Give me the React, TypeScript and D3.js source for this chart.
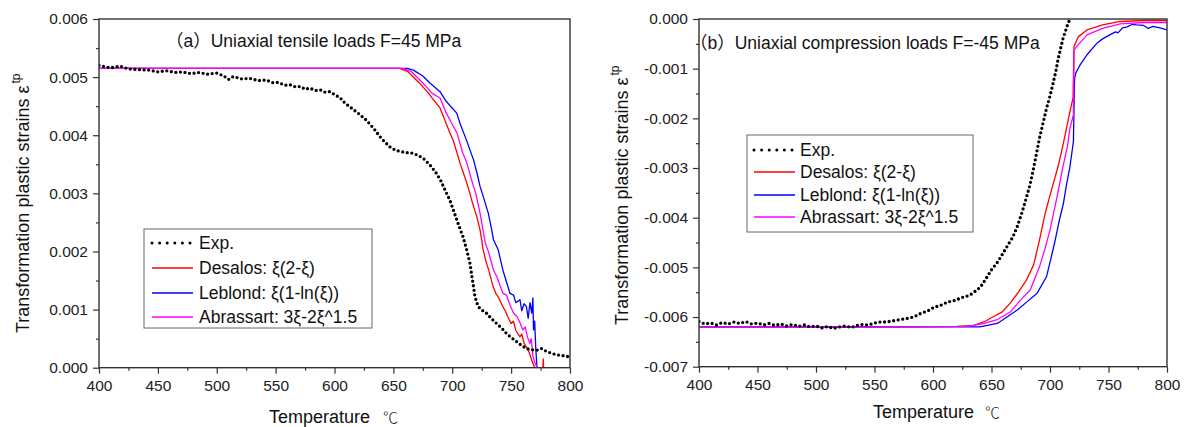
import React, { useEffect, useRef } from "react";
import * as d3 from "d3";

const xTicks = [400, 450, 500, 550, 600, 650, 700, 750, 800];
const xMinorTicks = [425, 475, 525, 575, 625, 675, 725, 775];
const yTicksA = [0, 0.001, 0.002, 0.003, 0.004, 0.005, 0.006];
const yMinorA = [0.0005, 0.0015, 0.0025, 0.0035, 0.0045, 0.0055];
const yTicksB = [0, -0.001, -0.002, -0.003, -0.004, -0.005, -0.006, -0.007];
const yMinorB = [-0.0005, -0.0015, -0.0025, -0.0035, -0.0045, -0.0055, -0.0065];

const legendLabels = ["Exp.", "Desalos: ξ(2-ξ)", "Leblond: ξ(1-ln(ξ))", "Abrassart: 3ξ-2ξ^1.5"];
const seriesColors = ["#000000", "#ff0000", "#0000ff", "#ff00ff"];

// Panel (a): tensile
const expA: [number, number][] = [
  [400, 0.0052], [405, 0.00518], [410, 0.00516], [418, 0.00519], [425, 0.00514], [432, 0.00513], [443, 0.00512],
  [450, 0.00509], [457, 0.00511], [465, 0.00508], [471, 0.00509], [478, 0.00506], [485, 0.00508], [492, 0.00505],
  [500, 0.00507], [506, 0.00502], [510, 0.00496], [514, 0.00501], [521, 0.00497], [528, 0.00498], [535, 0.00494],
  [542, 0.00495], [548, 0.0049], [552, 0.00491], [558, 0.00486], [562, 0.00487], [567, 0.00483], [571, 0.00484],
  [575, 0.00479], [579, 0.00481], [584, 0.00477], [588, 0.00478], [592, 0.00474], [596, 0.00475], [600, 0.0047],
  [605, 0.00464], [609, 0.00455], [613, 0.00449], [620, 0.00438], [627, 0.00426], [634, 0.0041], [638, 0.00399],
  [641, 0.00392], [647, 0.0038], [652, 0.00374], [656, 0.00372], [662, 0.0037], [667, 0.00369], [672, 0.00364],
  [675, 0.00361], [681, 0.00349], [686, 0.00336], [690, 0.00323], [694, 0.00305], [698, 0.00288], [701, 0.00271],
  [705, 0.00248], [709, 0.00226], [712, 0.00205], [715, 0.0018], [718, 0.0014], [719.3, 0.00122], [722, 0.00105],
  [726, 0.00098], [729, 0.00094], [733, 0.00085], [737.7, 0.00076], [742, 0.00068], [746, 0.00059], [750, 0.00052],
  [754.7, 0.00045], [759, 0.00038], [763, 0.00033], [767, 0.00031], [771.7, 0.0003], [776, 0.00033], [780, 0.00028],
  [784, 0.00025], [788.7, 0.00022], [793, 0.00021], [798.6, 0.00019], [800, 0.00015],
];
const desalosA: [number, number][] = [
  [400, 0.00515], [655, 0.00515], [662, 0.0051], [672, 0.0049], [680, 0.00472], [684, 0.00461], [689.6, 0.00447],
  [692, 0.00435], [698, 0.00404], [701, 0.0039], [706.6, 0.00352], [709, 0.00338], [712, 0.0032], [715, 0.003],
  [717, 0.00285], [720.8, 0.0026], [723.6, 0.00237], [725, 0.0022], [726, 0.00205], [729, 0.0018], [731, 0.00168],
  [734.6, 0.0014], [737, 0.00128], [739, 0.00122], [743, 0.00105], [745, 0.00098], [747, 0.00088], [750, 0.00076],
  [752, 0.0008], [754, 0.00064], [757.5, 0.00053], [759, 0.00058], [761, 0.00042], [763, 0.00036], [765, 0.00028],
  [767.5, 0.00013], [769, 0.00005], [770, 0], [777, 0], [777.3, 0.00015], [777.6, 0],
];
const leblondA: [number, number][] = [
  [400, 0.00515], [662, 0.00515], [667, 0.00512], [675, 0.00502], [681, 0.0049], [689.6, 0.00475], [695, 0.00458],
  [703.8, 0.00438], [707, 0.00418], [712, 0.00392], [718, 0.00358], [721, 0.00335], [723.6, 0.00312], [727, 0.0029],
  [730.6, 0.00266], [733.5, 0.00237], [735, 0.0022], [739, 0.00203], [743, 0.00168], [746, 0.00148], [749, 0.00128],
  [752, 0.00125], [754, 0.00112], [757.5, 0.00117], [759, 0.00098], [761, 0.0011], [763, 0.00105], [764.5, 0.00085],
  [766, 0.00112], [767.5, 0.00094], [768.5, 0.0012], [769, 0.00065], [770, 0.0008], [771, 0.0003], [772, 0],
];
const abrassartA: [number, number][] = [
  [400, 0.00515], [658, 0.00515], [665, 0.0051], [675, 0.0049], [683, 0.00472], [689.6, 0.00464], [695, 0.00438],
  [701, 0.00415], [704, 0.00404], [709, 0.00369], [712, 0.00355], [718, 0.00312], [720, 0.003], [723.6, 0.00266],
  [728, 0.00215], [731, 0.00198], [735, 0.00168], [738, 0.00156], [743, 0.00128], [746, 0.00125], [749, 0.00108],
  [752, 0.00094], [755, 0.00088], [757, 0.0008], [760, 0.00065], [762, 0.0007], [764, 0.00052], [766, 0.00042],
  [767, 0.0005], [768.6, 0.00019], [770, 0.0001], [772, 0],
];

// Panel (b): compression
const expB: [number, number][] = [
  [400, -0.00609], [405, -0.00614], [410, -0.00612], [415, -0.00616], [420, -0.00611], [425, -0.00614], [430, -0.0061],
  [435, -0.00613], [440, -0.00609], [445, -0.00614], [450, -0.00612], [455, -0.00616], [460, -0.00613], [465, -0.00617],
  [470, -0.00614], [475, -0.00618], [480, -0.00615], [485, -0.00619], [490, -0.00616], [495, -0.0062], [500, -0.00618],
  [505, -0.00622], [510, -0.00619], [515, -0.00623], [520, -0.0062], [525, -0.00618], [530, -0.00621], [535, -0.00617],
  [540, -0.00615], [545, -0.00616], [550, -0.00612], [555, -0.0061], [560, -0.0061], [565, -0.00608], [570, -0.00606],
  [575, -0.00604], [580, -0.00602], [583, -0.006], [587, -0.00596], [590, -0.00592], [594, -0.00589], [597, -0.00586],
  [601, -0.0058], [605, -0.00578], [609, -0.00574], [612, -0.0057], [616, -0.00568], [620, -0.00566], [623, -0.00562],
  [626, -0.0056], [629, -0.00558], [632, -0.00555], [635, -0.0055], [638, -0.00545], [642, -0.00535], [646, -0.0052],
  [650, -0.00505], [655, -0.0049], [659, -0.00475], [663, -0.00459], [668, -0.0044], [672, -0.00418], [676, -0.0039],
  [680, -0.00358], [683, -0.00333], [686, -0.003], [688.5, -0.0027], [691, -0.0024], [694, -0.0021], [697, -0.0018],
  [700, -0.00155], [702.6, -0.0013], [705, -0.00105], [707, -0.0008], [709, -0.0006], [711, -0.0004], [714.5, -0.00015],
  [717, 0], [719, 0.0001],
];
const desalosB: [number, number][] = [
  [400, -0.0062], [560, -0.0062], [620, -0.00619], [635, -0.00617], [645, -0.00608], [651, -0.006], [659, -0.0059],
  [666, -0.00572], [673, -0.0055], [680, -0.00525], [686, -0.00495], [691, -0.00445], [696, -0.0039], [700, -0.00355],
  [707, -0.00296], [711, -0.00255], [717, -0.00187], [719.7, -0.00159], [720.5, -0.00056], [724, -0.00036],
  [731.6, -0.00022], [745, -0.00012], [760, -0.00005], [780, -0.00003], [800, -0.00003],
];
const leblondB: [number, number][] = [
  [400, -0.0062], [560, -0.0062], [640, -0.0062], [655, -0.00613], [672, -0.00586], [680, -0.0057], [689, -0.00552],
  [697, -0.00519], [700, -0.0049], [704, -0.0045], [708, -0.00405], [711.4, -0.00372], [714, -0.00335], [717, -0.00298],
  [720, -0.00247], [721, -0.0012], [722, -0.00109], [725.6, -0.00093], [731.6, -0.00072], [740, -0.00049], [745, -0.0004],
  [751, -0.00032], [756, -0.00026], [758, -0.00028], [762, -0.00018], [766, -0.00016], [770, -0.00011], [774, -0.00012],
  [780, -0.00013], [784, -0.00019], [788, -0.00015], [794, -0.00018], [800, -0.00022],
];
const abrassartB: [number, number][] = [
  [400, -0.0062], [560, -0.0062], [630, -0.00619], [645, -0.00612], [655, -0.00605], [666, -0.0059], [675, -0.00565],
  [683, -0.00546], [691, -0.00499], [696, -0.0046], [700, -0.00425], [706, -0.00358], [711, -0.00298], [715, -0.00255],
  [717, -0.0022], [720, -0.00193], [720.6, -0.00062], [724, -0.00052], [731.6, -0.00032], [745, -0.00019],
  [760, -0.0001], [780, -0.00007], [800, -0.00007],
];

const FONT = "'Liberation Sans', Arial, 'Noto Sans CJK SC', sans-serif";

export default function App() {
  const ref = useRef<SVGSVGElement>(null);

  useEffect(() => {
    const svg = d3.select(ref.current);
    svg.selectAll("*").remove();

    const panels = [
      {
        id: "A", x0: 99, x1: 570, y0: 19, y1: 367.7, yDomain: [0, 0.006], yTicks: yTicksA, yMinor: yMinorA,
        series: [desalosA, leblondA, abrassartA], exp: expA,
        title: "（a）Uniaxial tensile loads F=45 MPa", titleX: 166, titleY: 47,
        yTitleX: 29, yTitleY: 333, xTitleY: 423, xTitleX: 269, degX: 383,
        legend: { x: 144, y: 229, w: 228, h: 99, rows: [243, 268, 293, 317], lx0: 152, lx1: 193, tx: 199 },
      },
      {
        id: "B", x0: 699, x1: 1167, y0: 19, y1: 366.7, yDomain: [-0.007, 0], yTicks: yTicksB, yMinor: yMinorB,
        series: [desalosB, leblondB, abrassartB], exp: expB,
        title: "（b）Uniaxial compression loads F=-45 MPa", titleX: 690, titleY: 49,
        yTitleX: 628, yTitleY: 325, xTitleY: 418, xTitleX: 873, degX: 985,
        legend: { x: 747, y: 135, w: 226, h: 97, rows: [150, 172, 195, 217], lx0: 754, lx1: 795, tx: 800 },
      },
    ];

    const defs = svg.append("defs");

    panels.forEach((p) => {
      const x = d3.scaleLinear().domain([400, 800]).range([p.x0, p.x1]);
      const y = d3.scaleLinear().domain(p.yDomain).range([p.y1, p.y0]);
      const g = svg.append("g");

      defs.append("clipPath").attr("id", "clip" + p.id)
        .append("rect").attr("x", p.x0).attr("y", p.y0).attr("width", p.x1 - p.x0).attr("height", p.y1 - p.y0);

      const line = d3.line<[number, number]>().x((d) => x(d[0])).y((d) => y(d[1]));
      const plot = g.append("g").attr("clip-path", `url(#clip${p.id})`);
      [0, 1, 2].forEach((i) => {
        plot.append("path").datum(p.series[i]).attr("d", line)
          .attr("fill", "none").attr("stroke", seriesColors[i + 1]).attr("stroke-width", 1.3)
          .attr("stroke-linejoin", "round");
      });
      plot.append("path").datum(p.exp).attr("d", line)
        .attr("fill", "none").attr("stroke", "#000").attr("stroke-width", 3.3)
        .attr("stroke-dasharray", "0 4.6").attr("stroke-linecap", "round");

      g.append("rect").attr("x", p.x0).attr("y", p.y0).attr("width", p.x1 - p.x0).attr("height", p.y1 - p.y0)
        .attr("fill", "none").attr("stroke", "#333").attr("stroke-width", 1.4);

      const styleAxis = (ax: any) => {
        ax.select(".domain").remove();
        ax.selectAll(".tick line").attr("stroke", "#333").attr("stroke-width", 1.2);
        ax.selectAll(".tick text").attr("font-family", FONT).attr("font-size", 15.5).attr("fill", "#222");
      };

      const xa = g.append("g").attr("transform", `translate(0,${p.y1})`)
        .call(d3.axisBottom(x).tickValues(xTicks).tickSize(6).tickPadding(6).tickFormat(d3.format("d")) as any);
      styleAxis(xa);
      const xm = g.append("g").attr("transform", `translate(0,${p.y1})`)
        .call(d3.axisBottom(x).tickValues(xMinorTicks).tickSize(3).tickFormat(() => "") as any);
      styleAxis(xm);
      const ya = g.append("g").attr("transform", `translate(${p.x0},0)`)
        .call(d3.axisLeft(y).tickValues(p.yTicks).tickSize(6).tickPadding(5)
          .tickFormat((d: any) => (Math.abs(d) < 1e-12 ? "0.000" : (+d).toFixed(3))) as any);
      styleAxis(ya);
      const ym = g.append("g").attr("transform", `translate(${p.x0},0)`)
        .call(d3.axisLeft(y).tickValues(p.yMinor).tickSize(3).tickFormat(() => "") as any);
      styleAxis(ym);

      g.append("text").attr("x", p.titleX).attr("y", p.titleY).attr("font-family", FONT)
        .attr("font-size", 17.5).attr("fill", "#111").text(p.title);

      const yt = g.append("text").attr("transform", `translate(${p.yTitleX},${p.yTitleY}) rotate(-90)`)
        .attr("font-family", FONT).attr("font-size", 18).attr("fill", "#111");
      yt.append("tspan").text("Transformation plastic strains ε");
      yt.append("tspan").attr("dx", 2).attr("dy", -9).attr("font-size", 12).text("tp");

      g.append("text").attr("x", p.xTitleX).attr("y", p.xTitleY).attr("font-family", FONT)
        .attr("font-size", 18).attr("fill", "#111").text("Temperature");
      g.append("text").attr("x", p.degX).attr("y", p.xTitleY).attr("font-family", "'Noto Sans CJK SC', serif")
        .attr("font-size", 15).attr("font-weight", 300).attr("fill", "#222").text("℃");

      const L = p.legend;
      const lg = g.append("g");
      lg.append("rect").attr("x", L.x).attr("y", L.y).attr("width", L.w).attr("height", L.h)
        .attr("fill", "#fff").attr("stroke", "#666").attr("stroke-width", 1);
      legendLabels.forEach((lab, i) => {
        const ry = L.rows[i];
        if (i === 0) {
          lg.append("line").attr("x1", L.lx0).attr("x2", L.lx1).attr("y1", ry).attr("y2", ry)
            .attr("stroke", "#000").attr("stroke-width", 3).attr("stroke-dasharray", "0 7.6")
            .attr("stroke-linecap", "round");
        } else {
          lg.append("line").attr("x1", L.lx0).attr("x2", L.lx1).attr("y1", ry).attr("y2", ry)
            .attr("stroke", seriesColors[i]).attr("stroke-width", 1.3);
        }
        lg.append("text").attr("x", L.tx).attr("y", ry).attr("dy", "0.36em").attr("font-family", FONT)
          .attr("font-size", 17.5).attr("fill", "#111").text(lab);
      });
    });
  }, []);

  return (
    <svg ref={ref} width={1186} height={427}
      style={{ position: "fixed", left: 0, top: 0, background: "#fff" }} />
  );
}
